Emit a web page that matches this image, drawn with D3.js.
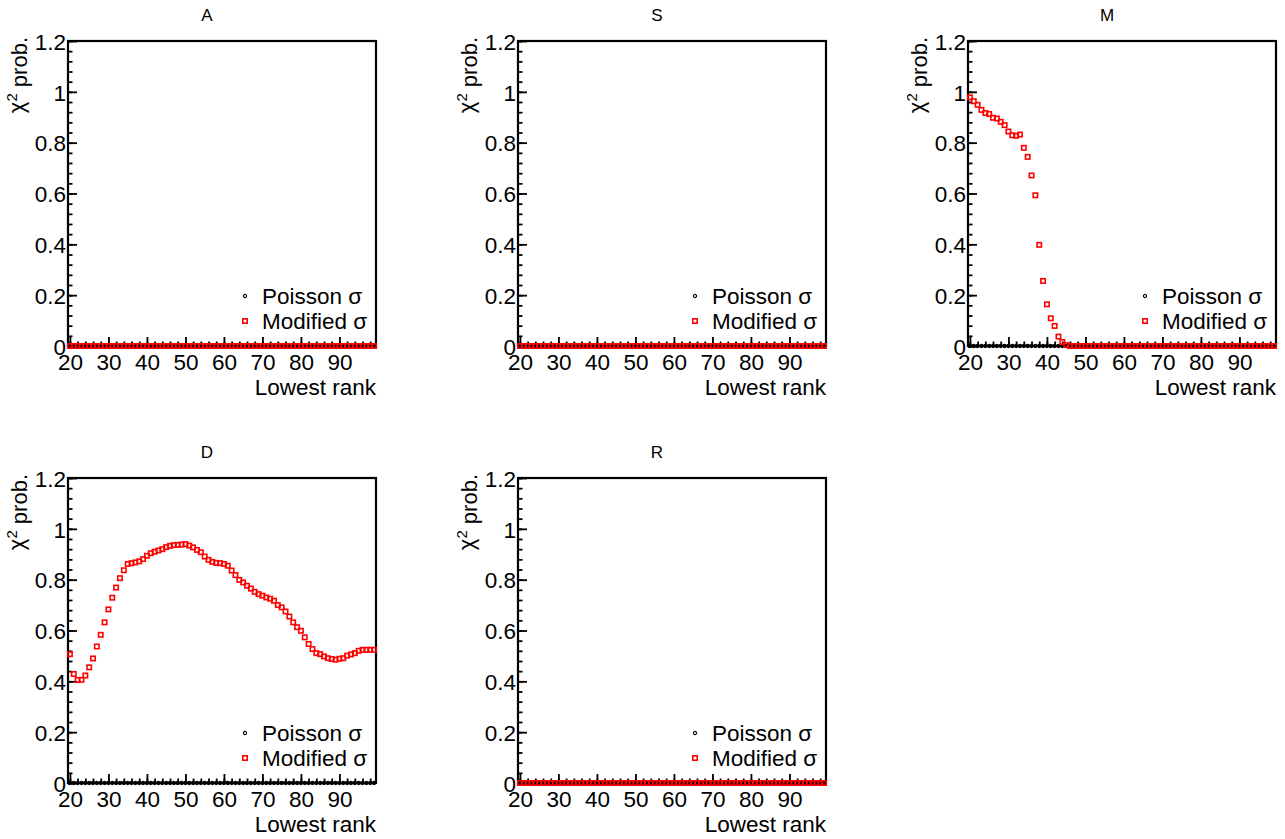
<!DOCTYPE html>
<html lang="en">
  <head>
    <meta charset="utf-8" />
    <title>chi2 prob vs lowest rank</title>
    <script type="text/javascript" src="https://d3js.org/d3.v7.min.js"></script>
    <style>
      body {
        margin: 0;
        background: white;
      }
      text {
        font-family: "Liberation Sans", Arial, sans-serif;
        fill: black;
      }
      .axis path.domain {
        display: none;
      }
      .axis line {
        stroke: black;
        stroke-width: 1.8px;
      }
      .axis text {
        font-size: 22.5px;
      }
      .frame {
        fill: none;
        stroke: black;
        stroke-width: 2.2px;
      }
      circle.poisson {
        fill: none;
        stroke: black;
        stroke-width: 1.1px;
      }
      rect.modified {
        fill: none;
        stroke: red;
        stroke-width: 1.6px;
      }
    </style>
  </head>
  <body>
    <script>
      // lowest rank (x)
      let ranks = [
        20, 21, 22, 23, 24, 25, 26, 27, 28, 29, 30, 31, 32, 33, 34, 35, 36, 37, 38, 39,
        40, 41, 42, 43, 44, 45, 46, 47, 48, 49, 50, 51, 52, 53, 54, 55, 56, 57, 58, 59,
        60, 61, 62, 63, 64, 65, 66, 67, 68, 69, 70, 71, 72, 73, 74, 75, 76, 77, 78, 79,
        80, 81, 82, 83, 84, 85, 86, 87, 88, 89, 90, 91, 92, 93, 94, 95, 96, 97, 98, 99
      ];

      // Poisson sigma: chi2 prob is ~0 everywhere, in every panel
      let poissonProb = [
        0, 0, 0, 0, 0, 0, 0, 0, 0, 0, 0, 0, 0, 0, 0, 0, 0, 0, 0, 0,
        0, 0, 0, 0, 0, 0, 0, 0, 0, 0, 0, 0, 0, 0, 0, 0, 0, 0, 0, 0,
        0, 0, 0, 0, 0, 0, 0, 0, 0, 0, 0, 0, 0, 0, 0, 0, 0, 0, 0, 0,
        0, 0, 0, 0, 0, 0, 0, 0, 0, 0, 0, 0, 0, 0, 0, 0, 0, 0, 0, 0
      ];

      // Modified sigma, per panel
      let modA = [
        0, 0, 0, 0, 0, 0, 0, 0, 0, 0, 0, 0, 0, 0, 0, 0, 0, 0, 0, 0,
        0, 0, 0, 0, 0, 0, 0, 0, 0, 0, 0, 0, 0, 0, 0, 0, 0, 0, 0, 0,
        0, 0, 0, 0, 0, 0, 0, 0, 0, 0, 0, 0, 0, 0, 0, 0, 0, 0, 0, 0,
        0, 0, 0, 0, 0, 0, 0, 0, 0, 0, 0, 0, 0, 0, 0, 0, 0, 0, 0, 0
      ];
      let modS = [
        0, 0, 0, 0, 0, 0, 0, 0, 0, 0, 0, 0, 0, 0, 0, 0, 0, 0, 0, 0,
        0, 0, 0, 0, 0, 0, 0, 0, 0, 0, 0, 0, 0, 0, 0, 0, 0, 0, 0, 0,
        0, 0, 0, 0, 0, 0, 0, 0, 0, 0, 0, 0, 0, 0, 0, 0, 0, 0, 0, 0,
        0, 0, 0, 0, 0, 0, 0, 0, 0, 0, 0, 0, 0, 0, 0, 0, 0, 0, 0, 0
      ];
      let modM = [
        0.978, 0.963, 0.949, 0.929, 0.917, 0.913, 0.898, 0.895, 0.882, 0.869,
        0.844, 0.829, 0.827, 0.832, 0.78, 0.744, 0.671, 0.593, 0.398, 0.256,
        0.164, 0.109, 0.079, 0.037, 0.016, 0.004, 0, 0, 0, 0,
        0, 0, 0, 0, 0, 0, 0, 0, 0, 0, 0, 0, 0, 0, 0, 0, 0, 0, 0, 0,
        0, 0, 0, 0, 0, 0, 0, 0, 0, 0, 0, 0, 0, 0, 0, 0, 0, 0, 0, 0,
        0, 0, 0, 0, 0, 0, 0, 0, 0, 0
      ];
      let modD = [
        0.507, 0.429, 0.405, 0.406, 0.423, 0.455, 0.49, 0.537, 0.583, 0.632,
        0.683, 0.729, 0.769, 0.806, 0.837, 0.862, 0.865, 0.868, 0.872, 0.881,
        0.894, 0.904, 0.91, 0.915, 0.92, 0.928, 0.933, 0.936, 0.937, 0.938,
        0.94, 0.934, 0.927, 0.917, 0.908, 0.891, 0.878, 0.87, 0.866, 0.865,
        0.862, 0.855, 0.836, 0.818, 0.799, 0.789, 0.776, 0.765, 0.752, 0.743,
        0.737, 0.73, 0.725, 0.717, 0.7, 0.691, 0.675, 0.655, 0.632, 0.613,
        0.599, 0.573, 0.547, 0.527, 0.511, 0.507, 0.498, 0.491, 0.488, 0.485,
        0.489, 0.491, 0.501, 0.506, 0.511, 0.52, 0.524, 0.524, 0.524, 0.524
      ];
      let modR = [
        0, 0, 0, 0, 0, 0, 0, 0, 0, 0, 0, 0, 0, 0, 0, 0, 0, 0, 0, 0,
        0, 0, 0, 0, 0, 0, 0, 0, 0, 0, 0, 0, 0, 0, 0, 0, 0, 0, 0, 0,
        0, 0, 0, 0, 0, 0, 0, 0, 0, 0, 0, 0, 0, 0, 0, 0, 0, 0, 0, 0,
        0, 0, 0, 0, 0, 0, 0, 0, 0, 0, 0, 0, 0, 0, 0, 0, 0, 0, 0, 0
      ];

      let panelNames = ["A", "S", "M", "D", "R"];
      let panelMod = [modA, modS, modM, modD, modR];

      let xMajor = [20, 30, 40, 50, 60, 70, 80, 90];
      let yMajor = [0, 0.2, 0.4, 0.6, 0.8, 1, 1.2];

      let W = 1285;
      let H = 839;
      let pw = 308; // plot width
      let ph = 305; // plot height

      let svg = d3
        .select("body")
        .append("svg")
        .attr("width", W)
        .attr("height", H);

      function drawPanel(idx) {
        let col = idx % 3;
        let row = Math.floor(idx / 3);
        let left = 68 + col * 450;
        let top = row === 0 ? 41 : 478;

        let x = d3.scaleLinear().domain([19.5, 99.5]).range([0, pw]);
        let y = d3.scaleLinear().domain([0, 1.2]).range([ph, 0]);

        let g = svg
          .append("g")
          .attr("transform", `translate(${left},${top})`);

        // title
        g.append("text")
          .attr("x", 139)
          .attr("y", -20)
          .attr("text-anchor", "middle")
          .style("font-size", "17px")
          .text(panelNames[idx]);

        // minor ticks
        g.append("g")
          .attr("class", "axis")
          .call(
            d3.axisLeft(y)
              .tickValues(d3.range(0, 1.2001, 0.04))
              .tickSize(-4.5)
              .tickFormat("")
          );
        g.append("g")
          .attr("class", "axis")
          .attr("transform", `translate(0,${ph})`)
          .call(
            d3.axisBottom(x)
              .tickValues(d3.range(20, 100, 2))
              .tickSize(-4.5)
              .tickFormat("")
          );

        // major ticks + labels
        g.append("g")
          .attr("class", "axis")
          .call(
            d3.axisLeft(y)
              .tickValues(yMajor)
              .tickSize(-9)
              .tickPadding(2)
              .tickFormat((d) => String(+d.toFixed(1)))
          )
          .selectAll("text")
          .attr("dy", "0.37em");
        g.append("g")
          .attr("class", "axis")
          .attr("transform", `translate(0,${ph})`)
          .call(
            d3.axisBottom(x)
              .tickValues(xMajor)
              .tickSize(-9)
              .tickPadding(8)
          );

        // frame
        g.append("rect")
          .attr("class", "frame")
          .attr("x", 0)
          .attr("y", 0)
          .attr("width", pw)
          .attr("height", ph);

        // axis titles
        let yt = g
          .append("text")
          .attr("transform", `translate(-44,-4) rotate(-90)`)
          .attr("text-anchor", "end")
          .style("font-size", "22px");
        yt.append("tspan").text("\u03c7");
        yt.append("tspan")
          .attr("dy", "-0.45em")
          .style("font-size", "15px")
          .text("2");
        yt.append("tspan").attr("dy", "0.45em").text(" prob.");

        g.append("text")
          .attr("x", pw)
          .attr("y", ph + 49)
          .attr("text-anchor", "end")
          .style("font-size", "22.5px")
          .text("Lowest rank");

        // data
        let pts = ranks.map((r, i) => ({
          rank: r,
          poisson: poissonProb[i],
          mod: panelMod[idx][i],
        }));

        g.selectAll("circle.poisson")
          .data(pts)
          .join("circle")
          .attr("class", "poisson")
          .attr("cx", (d) => x(d.rank))
          .attr("cy", (d) => y(d.poisson))
          .attr("r", 1.6);

        g.selectAll("rect.modified")
          .data(pts)
          .join("rect")
          .attr("class", "modified")
          .attr("x", (d) => x(d.rank) - 2.2)
          .attr("y", (d) => y(d.mod) - 2.2)
          .attr("width", 4.4)
          .attr("height", 4.4);

        // legend
        let lg = g.append("g").attr("transform", `translate(177,${ph - 50})`);
        lg.append("circle")
          .attr("class", "poisson")
          .attr("cx", 0)
          .attr("cy", 0)
          .attr("r", 1.6);
        lg.append("text")
          .attr("x", 17)
          .attr("y", 7.5)
          .style("font-size", "22.5px")
          .text("Poisson \u03c3");
        lg.append("rect")
          .attr("class", "modified")
          .attr("x", -2.2)
          .attr("y", 22.8)
          .attr("width", 4.4)
          .attr("height", 4.4);
        lg.append("text")
          .attr("x", 17)
          .attr("y", 33)
          .style("font-size", "22.5px")
          .text("Modified \u03c3");
      }

      for (let i = 0; i < panelNames.length; i++) {
        drawPanel(i);
      }
    </script>
  </body>
</html>
